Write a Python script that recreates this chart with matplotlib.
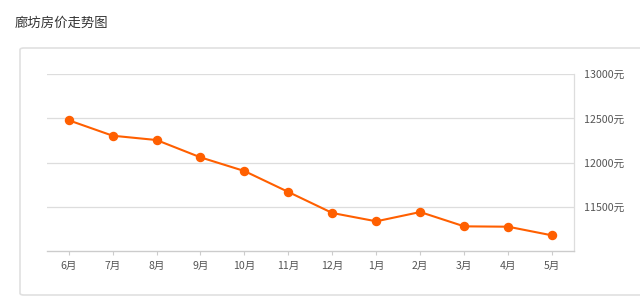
import matplotlib
matplotlib.use('Agg')
import matplotlib.pyplot as plt
from matplotlib.patches import FancyBboxPatch
from matplotlib.ticker import FuncFormatter

plt.rcParams['font.family'] = ['Noto Sans CJK SC', 'DejaVu Sans']

months = ['6月', '7月', '8月', '9月', '10月', '11月', '12月', '1月', '2月', '3月', '4月', '5月']
prices = [12480, 12305, 12256, 12060, 11905, 11668, 11430, 11336, 11441, 11279, 11275, 11177]
y_ticks = [11500, 12000, 12500, 13000]

fig = plt.figure(figsize=(6.4, 2.99), dpi=100)

# card background
card = FancyBboxPatch((20 / 640, 4 / 299), 640 / 640, 247 / 299,
                      boxstyle='round,pad=0,rounding_size=0.006',
                      transform=fig.transFigure, facecolor='white',
                      edgecolor='#e0e0e0', linewidth=1.2, zorder=0)
fig.patches.append(card)

fig.text(15 / 640, 1 - 23 / 299, '廊坊房价走势图', fontsize=9.6, color='#333333',
         va='center', ha='left')

ax = fig.add_axes([46.7 / 640, 48 / 299, 527.3 / 640, 176.7 / 299], zorder=2)
ax.patch.set_visible(False)
x = list(range(len(months)))
ax.plot(x, prices, color='#ff5f00', linewidth=1.5, marker='o', markersize=5.8, zorder=3)

ax.set_xlim(-0.5, len(months) - 0.5)
ax.set_ylim(11000, 13000)
ax.set_xticks(x)
ax.set_xticklabels(months)
ax.set_yticks(y_ticks)
ax.yaxis.set_major_formatter(FuncFormatter(lambda v, p: f'{int(v)}元'))
ax.yaxis.tick_right()
ax.tick_params(axis='y', length=0, pad=7, labelsize=7.7, labelcolor='#555555')
ax.tick_params(axis='x', length=3, color='#cccccc', pad=4.5, labelsize=7.6, labelcolor='#555555')

ax.grid(axis='y', color='#dddddd', linewidth=0.9)
ax.set_axisbelow(True)
for side in ['left', 'top']:
    ax.spines[side].set_visible(False)
ax.spines['bottom'].set_color('#cccccc')
ax.spines['right'].set_color('#dddddd')
ax.spines['bottom'].set_linewidth(1.0)
ax.spines['right'].set_linewidth(0.9)

fig.savefig('out.png', dpi=100)
